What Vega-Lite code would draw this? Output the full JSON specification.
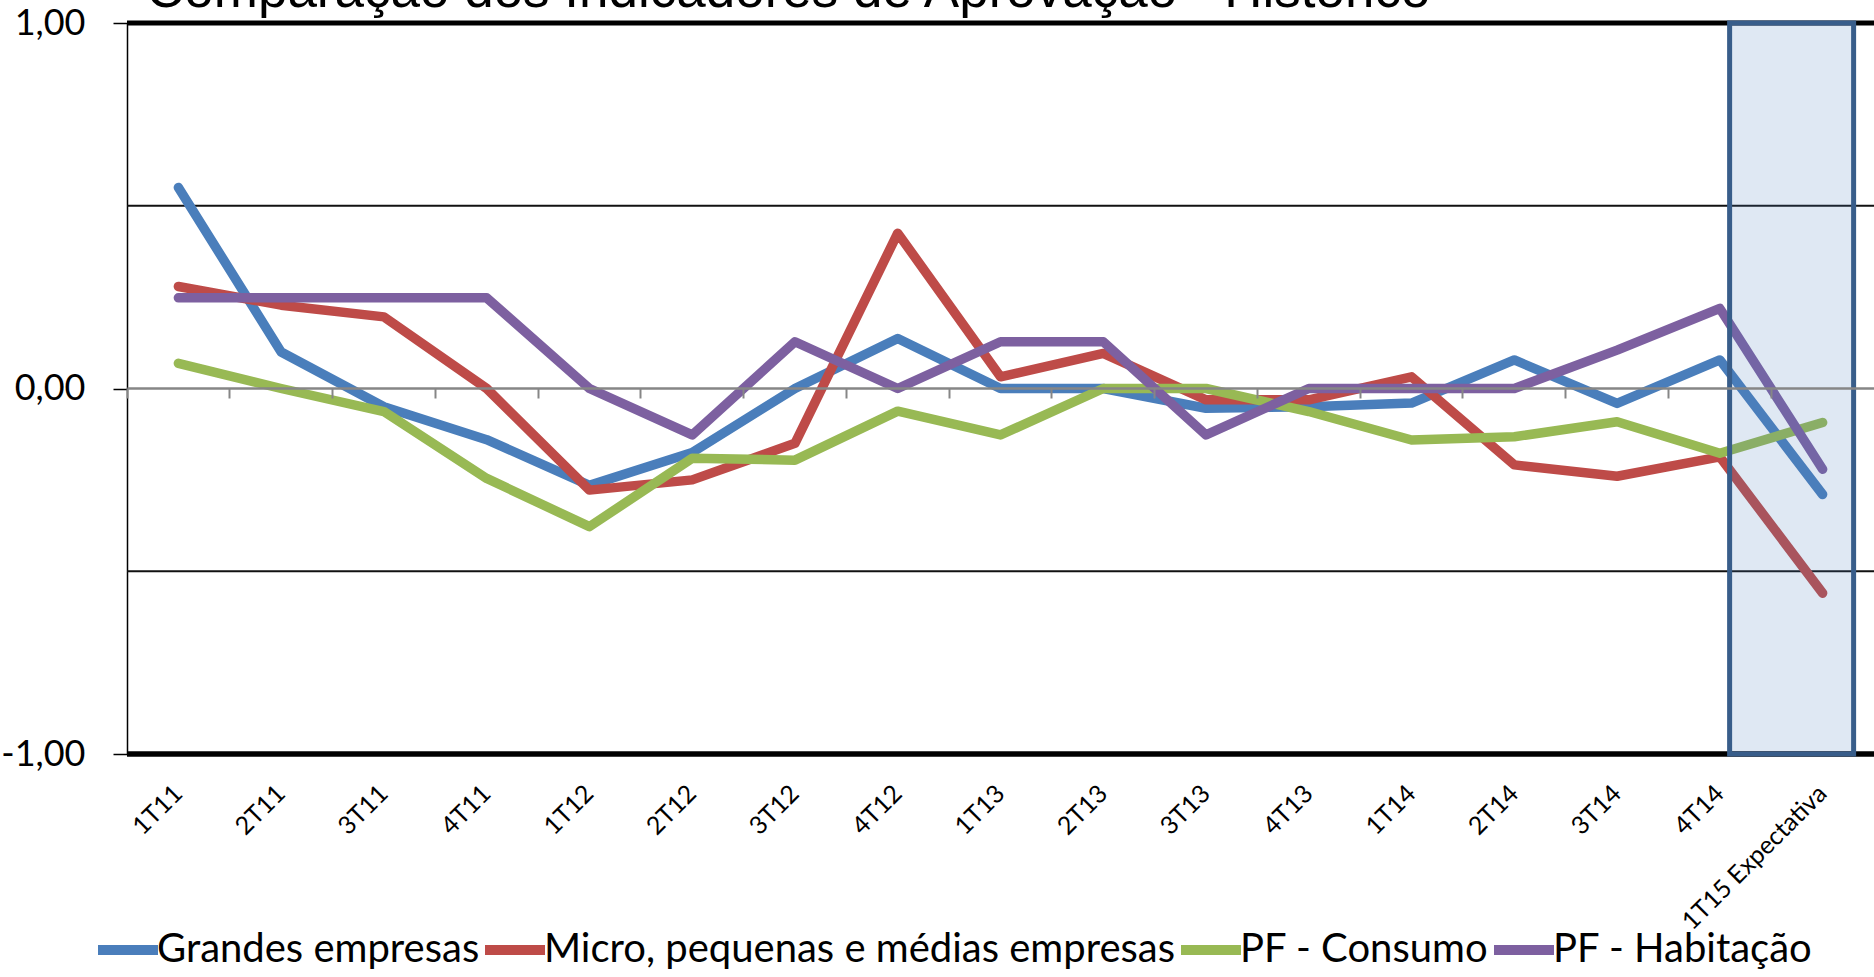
{
  "$schema": "https://vega.github.io/schema/vega-lite/v6.json",
  "width": 1747,
  "height": 731,
  "autosize": {"type": "none"},
  "padding": {"left": 127, "top": 23, "right": 0, "bottom": 223},
  "background": "white",
  "title": {
    "text": "Comparação dos Indicadores de Aprovação - Histórico",
    "anchor": "start",
    "frame": "group",
    "font": "Liberation Sans",
    "fontSize": 53,
    "fontWeight": "normal",
    "color": "#000000",
    "baseline": "alphabetic",
    "offset": -55,
    "dx": 19
  },
  "config": {"view": {"stroke": null}},
  "resolve": {"axis": {"x": "independent"}},
  "layer": [
    {
      "data": {"values": [{}]},
      "mark": {"type": "rule", "color": "#111111", "strokeWidth": 1.8},
      "encoding": {"y": {"datum": 0.5, "type": "quantitative", "title": null}}
    },
    {
      "data": {"values": [{}]},
      "mark": {"type": "rule", "color": "#111111", "strokeWidth": 1.8},
      "encoding": {"y": {"datum": -0.5, "type": "quantitative", "title": null}}
    },
    {
      "data": {"values": [{}]},
      "mark": {"type": "rule", "color": "#000000", "strokeWidth": 5},
      "encoding": {"y": {"datum": 1, "type": "quantitative", "title": null}}
    },
    {
      "data": {"values": [{}]},
      "mark": {"type": "rule", "color": "#000000", "strokeWidth": 5.5},
      "encoding": {"y": {"datum": -1, "type": "quantitative", "title": null}}
    },
    {
      "data": {
        "values": [
          {"cat": "1T11", "serie": "Grandes empresas", "v": 0.55},
          {"cat": "2T11", "serie": "Grandes empresas", "v": 0.10},
          {"cat": "3T11", "serie": "Grandes empresas", "v": -0.05},
          {"cat": "4T11", "serie": "Grandes empresas", "v": -0.14},
          {"cat": "1T12", "serie": "Grandes empresas", "v": -0.265},
          {"cat": "2T12", "serie": "Grandes empresas", "v": -0.175},
          {"cat": "3T12", "serie": "Grandes empresas", "v": 0.0},
          {"cat": "4T12", "serie": "Grandes empresas", "v": 0.137},
          {"cat": "1T13", "serie": "Grandes empresas", "v": 0.0},
          {"cat": "2T13", "serie": "Grandes empresas", "v": 0.0},
          {"cat": "3T13", "serie": "Grandes empresas", "v": -0.054},
          {"cat": "4T13", "serie": "Grandes empresas", "v": -0.05},
          {"cat": "1T14", "serie": "Grandes empresas", "v": -0.04},
          {"cat": "2T14", "serie": "Grandes empresas", "v": 0.078},
          {"cat": "3T14", "serie": "Grandes empresas", "v": -0.041},
          {"cat": "4T14", "serie": "Grandes empresas", "v": 0.078},
          {"cat": "1T15 Expectativa", "serie": "Grandes empresas", "v": -0.29},
          {"cat": "1T11", "serie": "Micro, pequenas e médias empresas", "v": 0.279},
          {"cat": "2T11", "serie": "Micro, pequenas e médias empresas", "v": 0.228},
          {"cat": "3T11", "serie": "Micro, pequenas e médias empresas", "v": 0.196},
          {"cat": "4T11", "serie": "Micro, pequenas e médias empresas", "v": 0.0},
          {"cat": "1T12", "serie": "Micro, pequenas e médias empresas", "v": -0.278},
          {"cat": "2T12", "serie": "Micro, pequenas e médias empresas", "v": -0.25},
          {"cat": "3T12", "serie": "Micro, pequenas e médias empresas", "v": -0.15},
          {"cat": "4T12", "serie": "Micro, pequenas e médias empresas", "v": 0.425},
          {"cat": "1T13", "serie": "Micro, pequenas e médias empresas", "v": 0.032},
          {"cat": "2T13", "serie": "Micro, pequenas e médias empresas", "v": 0.096},
          {"cat": "3T13", "serie": "Micro, pequenas e médias empresas", "v": -0.031},
          {"cat": "4T13", "serie": "Micro, pequenas e médias empresas", "v": -0.031},
          {"cat": "1T14", "serie": "Micro, pequenas e médias empresas", "v": 0.032},
          {"cat": "2T14", "serie": "Micro, pequenas e médias empresas", "v": -0.209},
          {"cat": "3T14", "serie": "Micro, pequenas e médias empresas", "v": -0.24},
          {"cat": "4T14", "serie": "Micro, pequenas e médias empresas", "v": -0.187},
          {"cat": "1T15 Expectativa", "serie": "Micro, pequenas e médias empresas", "v": -0.56},
          {"cat": "1T11", "serie": "PF - Consumo", "v": 0.069},
          {"cat": "2T11", "serie": "PF - Consumo", "v": 0.0},
          {"cat": "3T11", "serie": "PF - Consumo", "v": -0.063},
          {"cat": "4T11", "serie": "PF - Consumo", "v": -0.246},
          {"cat": "1T12", "serie": "PF - Consumo", "v": -0.378},
          {"cat": "2T12", "serie": "PF - Consumo", "v": -0.191},
          {"cat": "3T12", "serie": "PF - Consumo", "v": -0.196},
          {"cat": "4T12", "serie": "PF - Consumo", "v": -0.062},
          {"cat": "1T13", "serie": "PF - Consumo", "v": -0.127},
          {"cat": "2T13", "serie": "PF - Consumo", "v": 0.0},
          {"cat": "3T13", "serie": "PF - Consumo", "v": 0.0},
          {"cat": "4T13", "serie": "PF - Consumo", "v": -0.063},
          {"cat": "1T14", "serie": "PF - Consumo", "v": -0.141},
          {"cat": "2T14", "serie": "PF - Consumo", "v": -0.132},
          {"cat": "3T14", "serie": "PF - Consumo", "v": -0.091},
          {"cat": "4T14", "serie": "PF - Consumo", "v": -0.177},
          {"cat": "1T15 Expectativa", "serie": "PF - Consumo", "v": -0.093},
          {"cat": "1T11", "serie": "PF - Habitação", "v": 0.248},
          {"cat": "2T11", "serie": "PF - Habitação", "v": 0.248},
          {"cat": "3T11", "serie": "PF - Habitação", "v": 0.248},
          {"cat": "4T11", "serie": "PF - Habitação", "v": 0.248},
          {"cat": "1T12", "serie": "PF - Habitação", "v": 0.0},
          {"cat": "2T12", "serie": "PF - Habitação", "v": -0.127},
          {"cat": "3T12", "serie": "PF - Habitação", "v": 0.128},
          {"cat": "4T12", "serie": "PF - Habitação", "v": 0.0},
          {"cat": "1T13", "serie": "PF - Habitação", "v": 0.128},
          {"cat": "2T13", "serie": "PF - Habitação", "v": 0.128},
          {"cat": "3T13", "serie": "PF - Habitação", "v": -0.127},
          {"cat": "4T13", "serie": "PF - Habitação", "v": 0.0},
          {"cat": "1T14", "serie": "PF - Habitação", "v": 0.0},
          {"cat": "2T14", "serie": "PF - Habitação", "v": 0.0},
          {"cat": "3T14", "serie": "PF - Habitação", "v": 0.105},
          {"cat": "4T14", "serie": "PF - Habitação", "v": 0.219},
          {"cat": "1T15 Expectativa", "serie": "PF - Habitação", "v": -0.221}
        ]
      },
      "mark": {"type": "line", "strokeWidth": 9.5, "strokeCap": "round", "strokeJoin": "round"},
      "encoding": {
        "x": {
          "field": "cat",
          "type": "nominal",
          "sort": null,
          "title": null,
          "scale": {"type": "band", "paddingInner": 0, "paddingOuter": 0},
          "axis": {
            "orient": "bottom",
            "ticks": false,
            "domain": false,
            "grid": false,
            "labelAngle": -45,
            "labelAlign": "right",
            "labelBaseline": "middle",
            "labelPadding": 35,
            "labelFont": "Lato",
            "labelFontSize": 25,
            "labelColor": "#000000",
            "labelLimit": 0
          }
        },
        "y": {
          "field": "v",
          "type": "quantitative",
          "title": null,
          "scale": {"domain": [-1, 1], "nice": false, "zero": false},
          "axis": {
            "values": [-1, 0, 1],
            "labelExpr": "replace(replace(format(datum.value, '.2f'), '.', ','), '−', '-')",
            "grid": false,
            "tickSize": 14,
            "tickColor": "#000000",
            "tickWidth": 1.5,
            "domainColor": "#000000",
            "domainWidth": 1.5,
            "labelFont": "Lato",
            "labelFontSize": 36,
            "labelColor": "#000000",
            "labelPadding": 28
          }
        },
        "color": {
          "field": "serie",
          "type": "nominal",
          "scale": {
            "domain": ["Grandes empresas", "Micro, pequenas e médias empresas", "PF - Consumo", "PF - Habitação"],
            "range": ["#4A7EBB", "#BE4B48", "#98B954", "#7D60A0"]
          },
          "legend": {
            "title": null,
            "orient": "none",
            "direction": "horizontal",
            "legendX": -34,
            "legendY": 892,
            "padding": 0,
            "symbolType": "stroke",
            "symbolSize": 3600,
            "symbolStrokeWidth": 10,
            "labelFont": "Lato",
            "labelFontSize": 40,
            "labelColor": "#000000",
            "labelOffset": -6,
            "labelLimit": 0,
            "columnPadding": -30
          }
        }
      }
    },
    {
      "data": {"values": [{}]},
      "mark": {
        "type": "rect",
        "fill": "#4F81BD",
        "fillOpacity": 0.18,
        "stroke": "#385D8A",
        "strokeWidth": 5,
        "width": 124,
        "xOffset": -31
      },
      "encoding": {
        "x": {
          "datum": "1T15 Expectativa",
          "type": "nominal",
          "axis": {
            "orient": "bottom",
            "offset": -366,
            "labels": false,
            "grid": false,
            "title": null,
            "domainColor": "#868686",
            "domainWidth": 2.5,
            "ticks": true,
            "tickColor": "#868686",
            "tickWidth": 2,
            "tickSize": 10,
            "bandPosition": 0
          }
        },
        "y": {"datum": 1, "type": "quantitative", "title": null},
        "y2": {"datum": -1}
      }
    }
  ]
}
